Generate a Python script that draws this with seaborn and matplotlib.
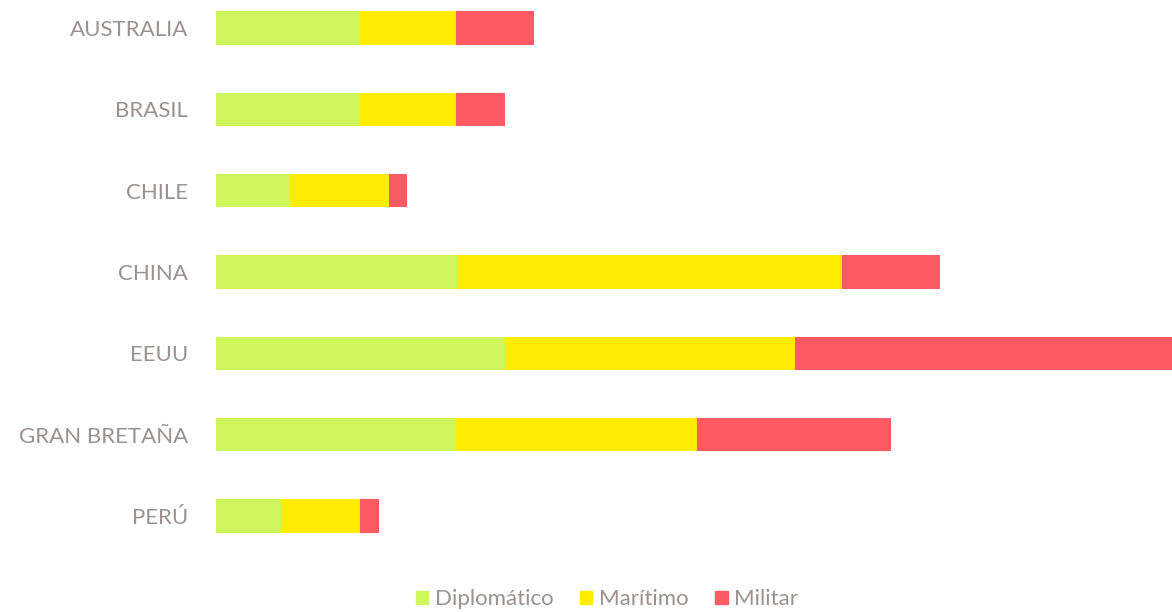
import matplotlib
matplotlib.use("Agg")
import matplotlib.pyplot as plt
import matplotlib.patches as mpatches
import numpy as np
import pandas as pd
import seaborn as sns

# datos (unidades relativas)
PAISES = ['AUSTRALIA', 'BRASIL', 'CHILE', 'CHINA', 'EEUU', 'GRAN BRETAÑA', 'PERÚ']
DIPLOMATICO = [14.4, 14.4, 7.4, 24.1, 28.9, 24.0, 6.5]
MARITIMO = [9.6, 9.6, 9.9, 38.5, 29.0, 24.1, 7.9]
MILITAR = [7.8, 4.9, 1.8, 9.8, 37.7, 19.4, 1.9]

SERIES = ['Diplomático', 'Marítimo', 'Militar']
COLORES = ['#cff55c', '#ffec00', '#fd5a64']
GRIS = '#9b9191'

sns.set_style("white")
plt.rcParams['font.family'] = ['Lato', 'DejaVu Sans']

df = pd.DataFrame({'pais': PAISES, 'Diplomático': DIPLOMATICO,
                   'Marítimo': MARITIMO, 'Militar': MILITAR})
df['c1'] = df['Diplomático']
df['c2'] = df['c1'] + df['Marítimo']
df['c3'] = df['c2'] + df['Militar']

fig = plt.figure(figsize=(11.72, 6.12), dpi=100)
ax = fig.add_axes([216 / 1172, 52 / 612, 1 - 216 / 1172, 560 / 612])

# barras apiladas: primero el total, luego las sumas parciales encima
for col, color in zip(['c3', 'c2', 'c1'], COLORES[::-1]):
    sns.barplot(data=df, x=col, y='pais', color=color, orient='h',
                width=0.41, saturation=1, ax=ax, linewidth=0)

ax.set_xlim(0, df['c3'].max())
ax.set_ylim(6.541, -0.344)
ax.set_xlabel('')
ax.set_ylabel('')
ax.set_xticks([])
ax.tick_params(axis='y', length=0, pad=20, labelsize=16, labelcolor=GRIS)
sns.despine(ax=ax, left=True, bottom=True)

handles = [mpatches.Patch(color=c, label=s) for s, c in zip(SERIES, COLORES)]
fig.legend(handles=handles, loc='lower center', bbox_to_anchor=(0.518, -0.028),
           ncol=3, frameon=False, fontsize=16, labelcolor=GRIS,
           handlelength=0.55, handleheight=0.55, handletextpad=0.3, columnspacing=1.2)

fig.savefig('out.png', dpi=100, facecolor='white')
